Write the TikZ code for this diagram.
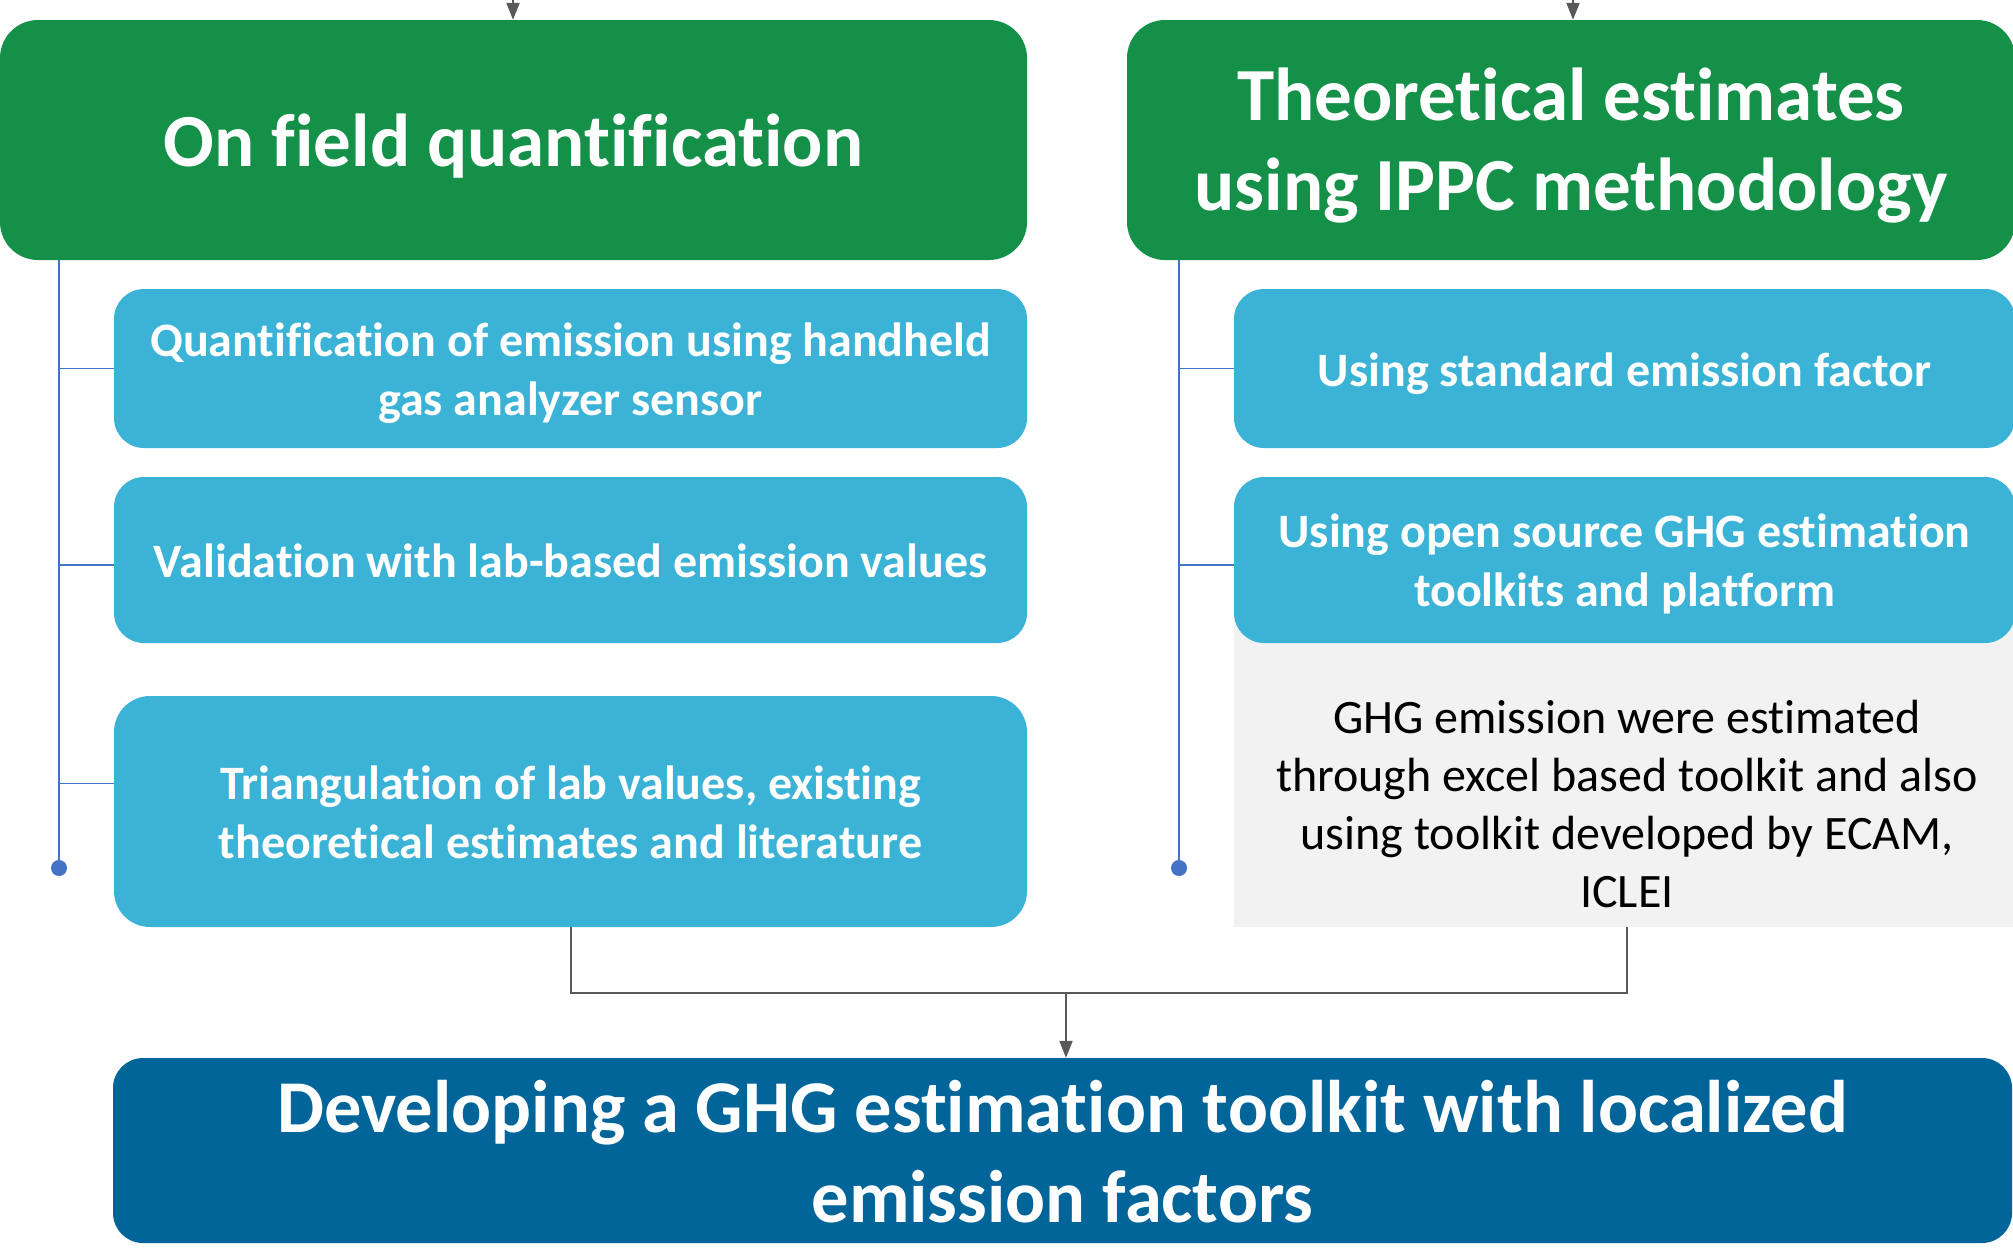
\documentclass[tikz,border=0pt]{standalone}
\usepackage{fontspec}
\setmainfont{Carlito}[Ligatures=NoCommon]
\usetikzlibrary{arrows.meta}

\definecolor{headgreen}{HTML}{159049}
\definecolor{stepblue}{HTML}{3BB3D7}
\definecolor{goalblue}{HTML}{02659A}
\definecolor{notegray}{HTML}{F2F2F2}
\definecolor{spineblue}{HTML}{4472C4}
\definecolor{linkgray}{HTML}{595959}

\tikzset{
  headbox/.style={fill=headgreen, rounded corners=38pt, inner sep=0pt},
  stepbox/.style={fill=stepblue, rounded corners=30pt, inner sep=0pt},
  goalbox/.style={fill=goalblue, rounded corners=30pt, inner sep=0pt},
  notebox/.style={fill=notegray, inner sep=0pt},
  headtext/.style={text=white, inner sep=0pt, align=center,
    font=\bfseries\fontsize{75}{90}\selectfont},
  steptext/.style={text=white, inner sep=0pt, align=center,
    font=\bfseries\fontsize{48}{58.6}\selectfont},
  goaltext/.style={text=white, inner sep=0pt, align=center,
    font=\bfseries\fontsize{74.5}{90}\selectfont},
  notetext/.style={text=black, inner sep=0pt, align=center,
    font=\fontsize{48}{58}\selectfont},
  spine/.style={draw=spineblue, line width=1.6pt},
  spinedot/.style={circle, fill=spineblue, inner sep=0pt, minimum size=16pt},
  link/.style={draw=linkgray, line width=2pt},
  linkarrow/.style={link, -{Triangle[length=17pt,width=13pt]}},
}

\begin{document}
\begin{tikzpicture}[x=1pt,y=-1pt]
\useasboundingbox (0,0) rectangle (2013,1248);
\clip (0,0) rectangle (2013,1248);

% column heads
\node[headbox, minimum width=1027pt, minimum height=240pt,
  label={[headtext, yshift=-6pt]center:On field quantification}] (field) at (513.5,140) {};
\node[headbox, minimum width=888pt, minimum height=240pt,
  label={[headtext, yshift=-6pt]center:Theoretical estimates\\using IPPC methodology}] (theory) at (1571,140) {};

% incoming arrows from above
\coordinate (inL) at (513,-10);
\coordinate (inR) at (1573,-10);
\draw[linkarrow] (inL) -- (field.north -| inL);
\draw[linkarrow] (inR) -- (theory.north -| inR);

% field measurement steps
\node[stepbox, minimum width=913pt, minimum height=159pt,
  label={[steptext, yshift=-5pt]center:Quantification of emission using handheld\\gas analyzer sensor}] (q1) at (570.5,368.5) {};
\node[stepbox, minimum width=913pt, minimum height=166pt,
  label={[steptext, yshift=-1pt]center:Validation with lab-based emission values}] (q2) at (570.5,560) {};
\node[stepbox, rounded corners=36pt, minimum width=913pt, minimum height=231pt,
  label={[steptext, yshift=-1pt]center:Triangulation of lab values, existing\\theoretical estimates and literature}] (q3) at (570.5,811.5) {};

% theoretical estimate steps and note
\node[notebox, minimum width=781pt, minimum height=327pt,
  label={[notetext, yshift=-40.5pt, xshift=2.5pt]center:GHG emission were estimated\\through excel based toolkit and also\\using toolkit developed by ECAM,\\ICLEI}] (note) at (1624.5,763.5) {};
\node[stepbox, minimum width=781pt, minimum height=159pt,
  label={[steptext, yshift=-5pt]center:Using standard emission factor}] (r1) at (1624.5,368.5) {};
\node[stepbox, minimum width=781pt, minimum height=166pt,
  label={[steptext, yshift=-4pt]center:Using open source GHG estimation\\toolkits and platform}] (r2) at (1624.5,560) {};

% goal
\node[goalbox, minimum width=1899pt, minimum height=185pt,
  label={[goaltext, yshift=-1pt]center:Developing a GHG estimation toolkit with localized\\emission factors}] (goal) at (1062.5,1150.5) {};

% left spine
\node[spinedot] (dotL) at (59,868) {};
\draw[spine] (field.south -| dotL) -- (dotL.center);
\draw[spine] (q1.west -| dotL) -- (q1.west);
\draw[spine] ([yshift=-5pt]q2.west -| dotL) -- ([yshift=-5pt]q2.west);
\draw[spine] ([yshift=28pt]q3.west -| dotL) -- ([yshift=28pt]q3.west);

% right spine
\node[spinedot] (dotR) at (1179,868) {};
\draw[spine] (theory.south -| dotR) -- (dotR.center);
\draw[spine] (r1.west -| dotR) -- (r1.west);
\draw[spine] ([yshift=-5pt]r2.west -| dotR) -- ([yshift=-5pt]r2.west);

% merge into the goal
\coordinate (join) at (1066,993);
\draw[link] (q3.south) |- (join) -| ([xshift=2pt]note.south);
\draw[linkarrow] (join) -- (goal.north -| join);
\end{tikzpicture}
\end{document}
